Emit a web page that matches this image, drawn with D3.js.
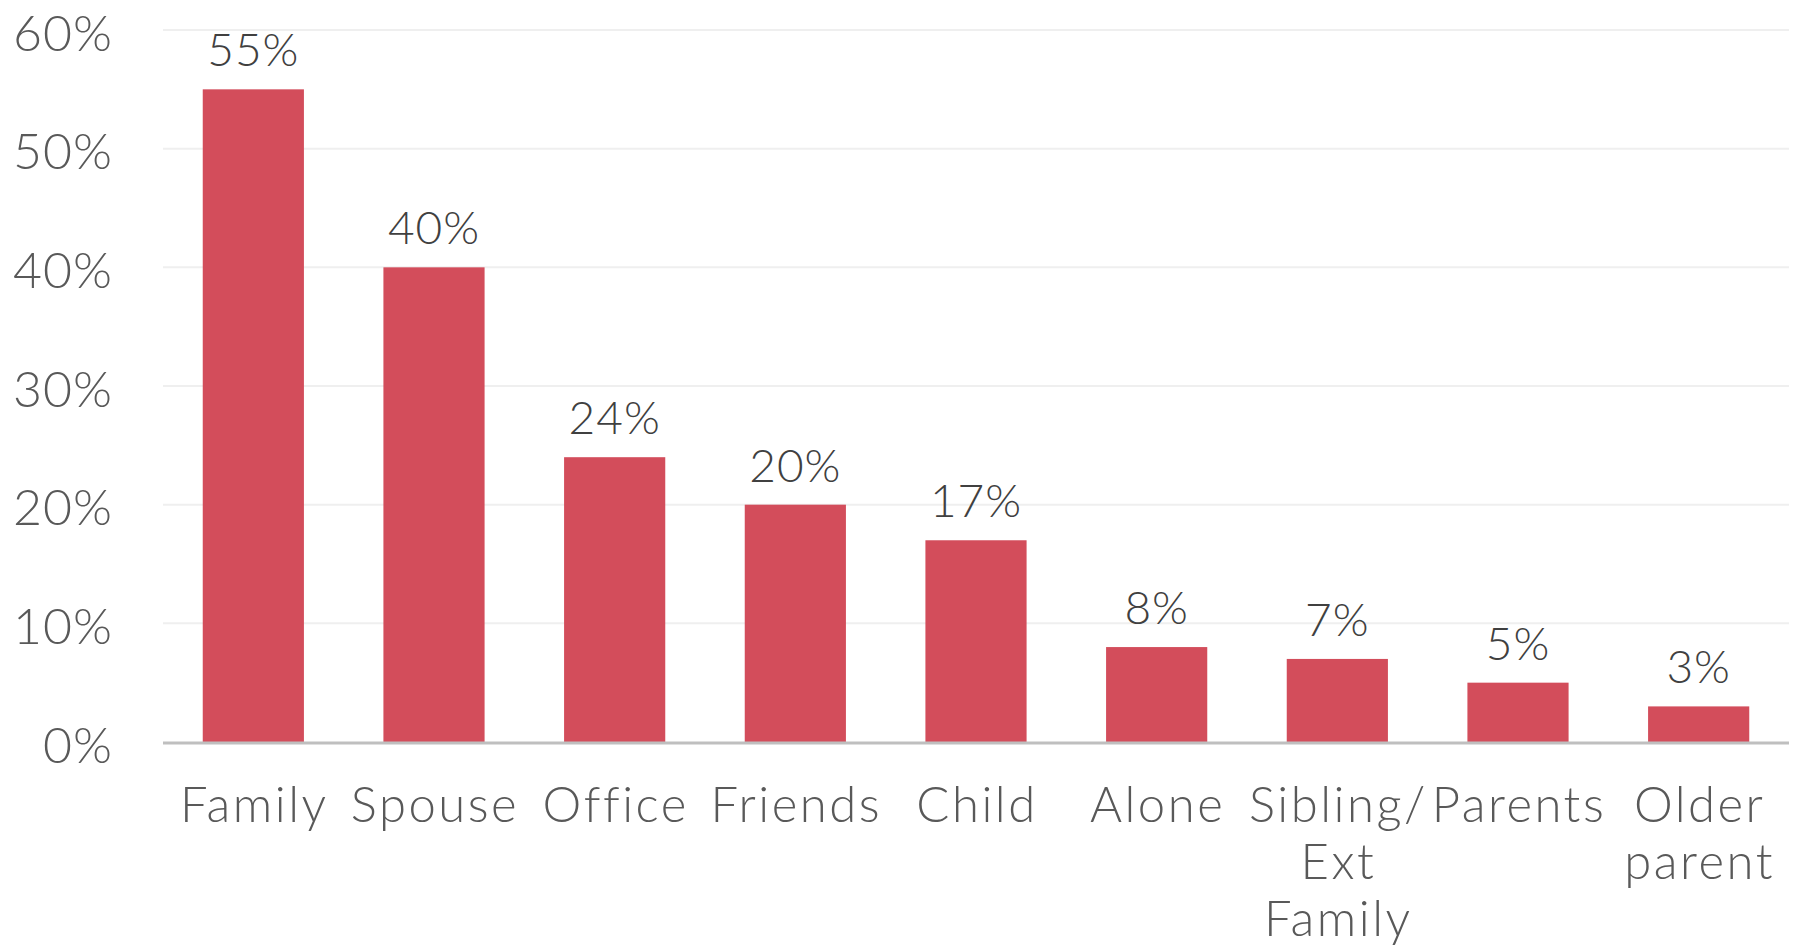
<!DOCTYPE html>
<html><head><meta charset="utf-8">
<script src="https://cdn.jsdelivr.net/npm/d3@7"></script>
<style>
html,body{margin:0;padding:0;background:#fff;}
svg{display:block;}
text{font-family:"Lato","DejaVu Sans",sans-serif;}
</style></head>
<body>
<svg id="chart" width="1798" height="948"></svg>
<script>
const categories = ["Family","Spouse","Office","Friends","Child","Alone","Sibling/ Ext Family","Parents","Older parent"];
const values = [55,40,24,20,17,8,7,5,3];
const yTicks = [0,10,20,30,40,50,60];

(function(){
const svg = d3.select("#chart");
const pLeft = 163, pRight = 1789, pTop = 30, pBottom = 742;

const x = d3.scaleBand().domain(categories).range([pLeft, pRight]).paddingInner(0.44).paddingOuter(0.22);
const y = d3.scaleLinear().domain([0, 60]).range([pBottom, pTop]);

// gridlines
svg.append("g").selectAll("line").data(yTicks.filter(d => d > 0)).join("line")
  .attr("x1", pLeft).attr("x2", pRight)
  .attr("y1", d => y(d)).attr("y2", d => y(d))
  .attr("stroke", "#efefef").attr("stroke-width", 2);

// y axis labels
const yAxis = d3.axisLeft(y).tickValues(yTicks).tickFormat(d => d + "%").tickSize(0).tickPadding(50);
const ya = svg.append("g").attr("transform", `translate(${pLeft},0)`).call(yAxis);
ya.select(".domain").remove();
ya.selectAll("text").attr("font-size", 50).attr("fill", "#595959")
  .attr("font-family", "Lato, 'DejaVu Sans', sans-serif").attr("font-weight", 300)
  .attr("letter-spacing", 1)
  .attr("dy", "0.40em");

// bars
svg.append("g").selectAll("rect").data(values).join("rect")
  .attr("x", (d, i) => x(categories[i]))
  .attr("width", x.bandwidth())
  .attr("y", d => y(d))
  .attr("height", d => y(0) - y(d))
  .attr("fill", "#d34d5b");

// baseline
svg.append("line").attr("x1", pLeft).attr("x2", pRight)
  .attr("y1", pBottom + 1).attr("y2", pBottom + 1)
  .attr("stroke", "#bfbfbf").attr("stroke-width", 3);

// value labels
svg.append("g").selectAll("text").data(values).join("text")
  .attr("x", (d, i) => x(categories[i]) + x.bandwidth() / 2)
  .attr("y", d => y(d) - 23)
  .attr("text-anchor", "middle")
  .attr("font-size", 46).attr("font-weight", 300)
  .attr("letter-spacing", 1)
  .attr("fill", "#404040")
  .text(d => d + "%");

// category labels
const cat = svg.append("g").selectAll("text").data(categories).join("text")
  .attr("x", d => x(d) + x.bandwidth() / 2)
  .attr("y", 822)
  .attr("text-anchor", "middle")
  .attr("font-size", 49).attr("font-weight", 300)
  .attr("letter-spacing", 2.5)
  .attr("fill", "#595959");
cat.each(function(d) {
  const parts = d.split(" ");
  d3.select(this).selectAll("tspan").data(parts).join("tspan")
    .attr("x", x(d) + x.bandwidth() / 2 + 1)
    .attr("dy", (p, j) => j === 0 ? 0 : 57)
    .text(p => p);
});
})();
</script>
</body></html>
